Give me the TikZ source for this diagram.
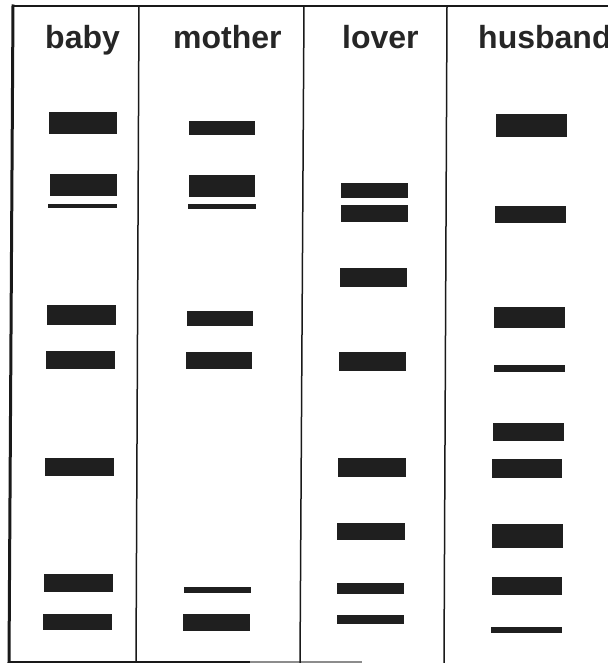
\documentclass[tikz,border=0pt]{standalone}
\usepackage{fontspec}
\setmainfont{Liberation Sans}
\tikzset{
 lanetitle/.style={inner sep=0pt, anchor=base west, text=black!85, font=\bfseries\fontsize{32}{36}\selectfont},
 lanebar/.style={fill=black!88},
 frameline/.style={draw=black!90, line cap=rect}
}
\begin{document}
\begin{tikzpicture}[x=1pt, y=-1pt, line join=round]
 \useasboundingbox (0,0) rectangle (607,663);
 %khung
 \draw[frameline, line width=2pt] (13,6) -- (607,6);
 \draw[frameline, line width=3pt] (13,6) -- (9,662);
 \draw[frameline, line width=1.5pt] (9,662) -- (250,662);
 \draw[black!45, line width=1.5pt] (250,662) -- (362,662);
 \foreach \xa/\xb in {139/136, 304/300, 447/444}
  \draw[frameline, line width=1.5pt] (\xa,6) -- (\xb,662);
 %ten cot
 \foreach \x/\name in {45/baby, 173/mother, 342/lover, 478/husband}
  \node[lanetitle] (\name) at (\x,49) {\name};
 %cac vach
 \foreach \xa/\ya/\xb/\yb in {49/112/117/134, 50/174/117/196, 48/204/117/208,
  47/305/116/325, 46/351/115/369, 45/458/114/476, 44/574/113/592, 43/614/112/630}
  \fill[lanebar] (\xa,\ya) rectangle (\xb,\yb);
 \foreach \xa/\ya/\xb/\yb in {189/121/255/135, 189/175/255/197, 188/204/256/209,
  187/311/253/326, 186/352/252/369, 184/587/251/593, 183/614/250/631}
  \fill[lanebar] (\xa,\ya) rectangle (\xb,\yb);
 \foreach \xa/\ya/\xb/\yb in {341/183/408/198, 341/205/408/222, 340/268/407/287,
  339/352/406/371, 338/458/406/477, 337/523/405/540, 337/583/404/594, 337/615/404/624}
  \fill[lanebar] (\xa,\ya) rectangle (\xb,\yb);
 \foreach \xa/\ya/\xb/\yb in {496/114/567/137, 495/206/566/223, 494/307/565/328,
  494/365/565/372, 493/423/564/441, 492/459/562/478, 492/524/563/548,
  492/577/562/595, 491/627/562/633}
  \fill[lanebar] (\xa,\ya) rectangle (\xb,\yb);
\end{tikzpicture}
\end{document}
